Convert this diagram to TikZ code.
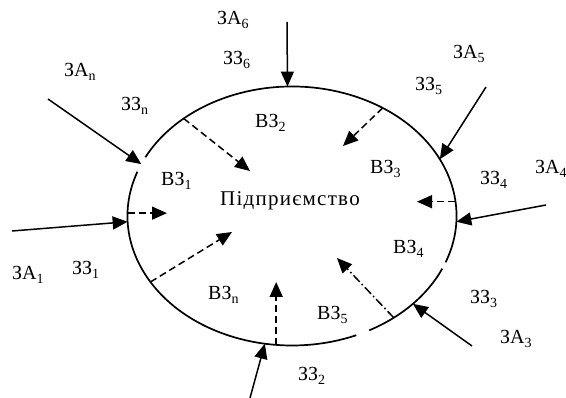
\documentclass[tikz,border=0pt]{standalone}
\usepackage{fontspec}
\setmainfont{Liberation Serif}
\usetikzlibrary{arrows.meta,shapes.geometric}
\newcommand\sbs[1]{\textsubscript{#1}}
\begin{document}
\begin{tikzpicture}[x=1pt,y=1pt,
  lbl/.style={anchor=base west, inner sep=0pt, font=\fontsize{20}{24}\selectfont},
  arr/.style={line width=1.5pt, -{Triangle[length=15pt,width=13pt]}},
  darr/.style={arr, dash pattern=on 7pt off 4pt},
  ddarr/.style={arr, dash pattern=on 9pt off 3pt on 1.5pt off 3pt},
  ell/.style={line width=1.7pt}]
\useasboundingbox (0,0) rectangle (566,-398);
% labels
\node[lbl] (za6) at (217,-25) {ЗА\sbs{6}};
\node[lbl] (zz6) at (223,-65) {ЗЗ\sbs{6}};
\node[lbl] (zan) at (64,-77) {ЗА\sbs{n}};
\node[lbl] (zzn) at (121,-111) {ЗЗ\sbs{n}};
\node[lbl] (vz2) at (255,-128) {ВЗ\sbs{2}};
\node[lbl] (vz1) at (161,-186) {ВЗ\sbs{1}};
\node[lbl] (za5) at (453,-59) {ЗА\sbs{5}};
\node[lbl] (zz5) at (415,-91) {ЗЗ\sbs{5}};
\node[lbl] (vz3) at (370,-174) {ВЗ\sbs{3}};
\node[lbl] (zz4) at (480,-185) {ЗЗ\sbs{4}};
\node[lbl] (za4) at (535,-174) {ЗА\sbs{4}};
\node[lbl] (za1) at (12,-280) {ЗА\sbs{1}};
\node[lbl] (zz1) at (72,-275) {ЗЗ\sbs{1}};
\node[lbl] (vzn) at (208,-300) {ВЗ\sbs{n}};
\node[lbl] (vz4) at (393,-254) {ВЗ\sbs{4}};
\node[lbl] (zz3) at (470,-304) {ЗЗ\sbs{3}};
\node[lbl] (za3) at (500,-344) {ЗА\sbs{3}};
\node[lbl] (vz5) at (317,-320) {ВЗ\sbs{5}};
\node[lbl] (zz2) at (298,-381) {ЗЗ\sbs{2}};
\node[lbl, font=\fontsize{21}{25}\selectfont\addfontfeature{LetterSpace=6}] (name) at (220,-206) {Підприємство};
% enterprise ellipse (drawn with gaps)
\node[ellipse, minimum width=329pt, minimum height=259pt, inner sep=0pt, outer sep=0pt] (ent) at (292,-216) {};
\draw[ell] ([shift={(160:164.5pt and 129.5pt)}]ent.center) arc[start angle=160, end angle=293, x radius=164.5pt, y radius=129.5pt];
\draw[ell] ([shift={(298:164.5pt and 129.5pt)}]ent.center) arc[start angle=298, end angle=336, x radius=164.5pt, y radius=129.5pt];
\draw[ell] ([shift={(339:164.5pt and 129.5pt)}]ent.center) arc[start angle=339, end angle=513, x radius=164.5pt, y radius=129.5pt];
% external arrows
\coordinate (s6) at (287,-22);
\coordinate (sn) at (48,-99);
\coordinate (s5) at (486,-87);
\coordinate (s4) at (546,-205);
\coordinate (s3) at (472,-346);
\coordinate (s2) at (250,-398);
\coordinate (s1) at (12,-231);
\draw[arr] (s6) -- (ent.92);
\draw[arr] (sn) -- (ent.161);
\draw[arr] (s5) -- (ent.21);
\draw[arr] (s4) -- (ent.-2);
\draw[arr] (s3) -- (ent.-36);
\draw[arr] (s2) -- (ent.258);
\draw[arr] (s1) -- (ent.182);
% internal arrows
\coordinate (e1) at (250,-171);
\coordinate (e2) at (343,-146);
\coordinate (e3) at (417,-203);
\coordinate (e4) at (167,-212);
\coordinate (e5) at (232,-232);
\coordinate (e6) at (275,-282);
\coordinate (e7) at (337,-258);
\draw[darr] (ent.138) -- (e1);
\draw[darr] (ent.50) -- (e2);
\draw[darr] (ent.5) -- (ent.5 -| e3);
\draw[darr] (ent.179) -- (ent.179 -| e4);
\draw[darr] (ent.205) -- (e5);
\draw[darr] (ent.263) -- (ent.263 |- e6);
\draw[ddarr] (ent.-45) -- (e7);
\end{tikzpicture}
\end{document}
